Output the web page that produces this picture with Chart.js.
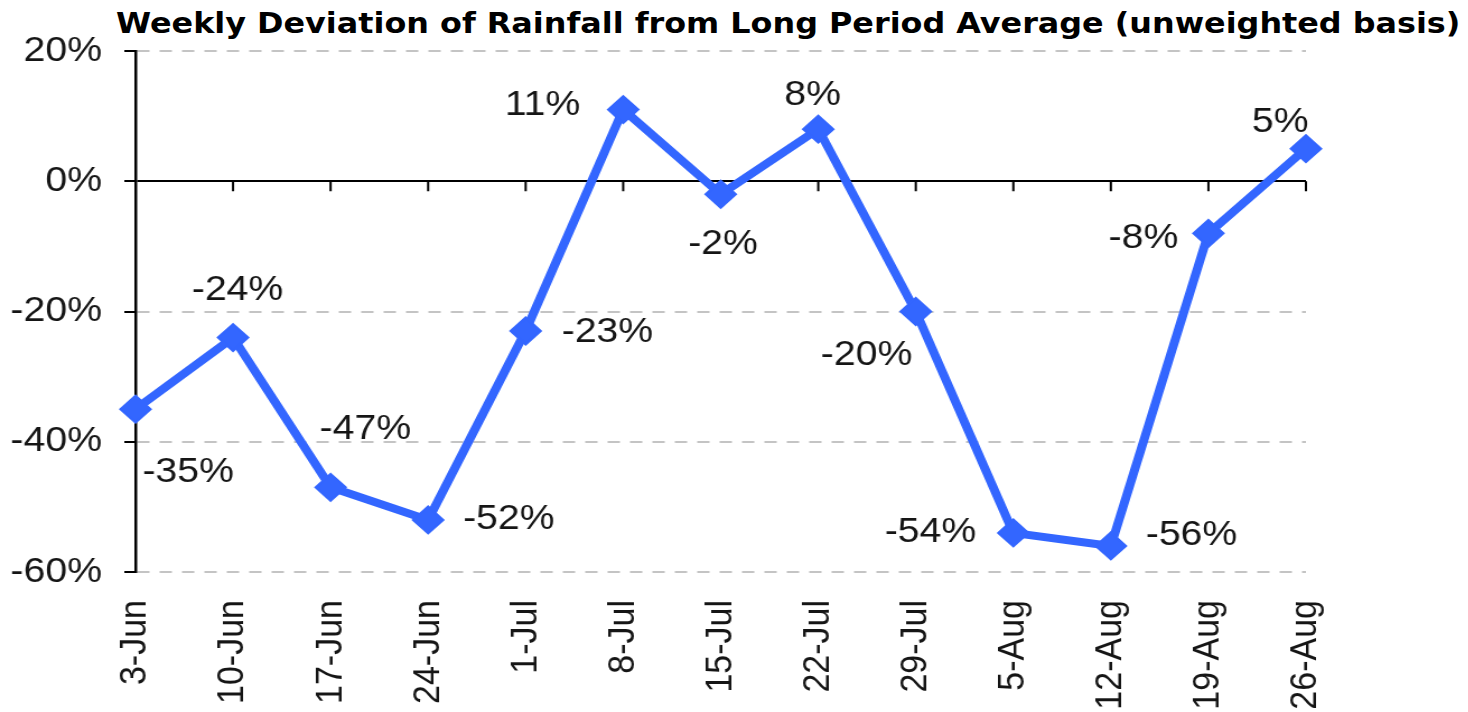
<!DOCTYPE html>
<html>
<head>
<meta charset="utf-8">
<script src="https://cdn.jsdelivr.net/npm/chart.js@4.4.0/dist/chart.umd.min.js"></script>
<style>
  html, body { margin: 0; padding: 0; background: #fff; overflow: hidden; }
  #title {
    position: absolute; right: 8px; top: 9px;
    font: bold 28px "DejaVu Sans"; line-height: 30px; color: #000; white-space: nowrap;
    transform: scaleX(1.137); transform-origin: 100% 0;
  }
  /* the source picture is stretched sideways, so the whole chart is too */
  #wrap {
    position: absolute; left: 0; top: 0; width: 1311px; height: 712px;
    transform: scaleX(1.12); transform-origin: 0 0;
  }
</style>
</head>
<body>
<div id="title">Weekly Deviation of Rainfall from Long Period Average (unweighted basis)</div>
<div id="wrap"><canvas id="chart"></canvas></div>
<script>
const weeks = ["3-Jun", "10-Jun", "17-Jun", "24-Jun", "1-Jul", "8-Jul", "15-Jul",
               "22-Jul", "29-Jul", "5-Aug", "12-Aug", "19-Aug", "26-Aug"];
const deviation = [-35, -24, -47, -52, -23, 11, -2, 8, -20, -54, -56, -8, 5];
const yTicks = [-60, -40, -20, 0, 20];

// where each value label sits relative to its point (px, before the stretch)
const labelShift = [[47, 63], [4, -47], [31, -58], [72, -1], [73, 1], [-72, -4], [2, 50],
                    [-5, -34], [-44, 44], [-74, -1], [72, -11], [-58, 5], [-23, -26]];

const blue = "#3366ff";
const textColor = "#151515";

// small down-ticks on the 0% line
const zeroTicks = {
  id: "zeroTicks",
  beforeDatasetsDraw(chart) {
    const { ctx, scales: { x, y } } = chart;
    const y0 = y.getPixelForValue(0);
    ctx.save();
    ctx.strokeStyle = "#000";
    ctx.lineWidth = 2;
    ctx.beginPath();
    x.ticks.forEach((t, i) => {
      const px = x.getPixelForTick(i);
      ctx.moveTo(px, y0);
      ctx.lineTo(px, y0 + 10);
    });
    ctx.stroke();
    ctx.restore();
  }
};

const valueLabels = {
  id: "valueLabels",
  afterDatasetsDraw(chart) {
    const ctx = chart.ctx;
    const meta = chart.getDatasetMeta(0);
    ctx.save();
    ctx.font = "35px 'Liberation Sans'";
    ctx.fillStyle = textColor;
    ctx.textAlign = "center";
    ctx.textBaseline = "middle";
    meta.data.forEach((pt, i) => {
      const [dx, dy] = labelShift[i];
      ctx.fillText(deviation[i] + "%", pt.x + dx, pt.y + dy);
    });
    ctx.restore();
  }
};

new Chart(document.getElementById("chart"), {
  type: "line",
  data: {
    labels: weeks,
    datasets: [{
      data: deviation,
      borderColor: blue,
      backgroundColor: blue,
      borderWidth: 8,
      tension: 0,
      pointStyle: "rectRot",
      pointRadius: 13.5,
      pointBorderWidth: 2,
      pointBackgroundColor: blue,
      pointBorderColor: blue
    }]
  },
  options: {
    responsive: true,
    maintainAspectRatio: false,
    animation: false,
    layout: { padding: { left: 0, right: 145, top: 51, bottom: 0 } },
    plugins: {
      legend: { display: false },
      tooltip: { enabled: false }
    },
    scales: {
      x: {
        offset: false,
        afterFit: (s) => { s.height = 140; },
        grid: { display: false, drawTicks: false },
        border: { display: false },
        ticks: {
          autoSkip: false,
          minRotation: 90,
          maxRotation: 90,
          padding: 28,
          color: textColor,
          font: { family: "Liberation Sans", size: 34 }
        }
      },
      y: {
        min: -60,
        max: 20,
        afterFit: (s) => { s.width = 121; },
        afterBuildTicks: (scale) => {
          scale.ticks = yTicks.map(v => ({ value: v }));
        },
        ticks: {
          padding: 20,
          color: textColor,
          font: { family: "Liberation Sans", size: 35 },
          callback: (v) => v + "%"
        },
        grid: {
          color: (c) => (c.tick && c.tick.value === 0 ? "#000" : "#c4c4c4"),
          lineWidth: 2,
          tickLength: 10,
          tickColor: "#000",
          tickWidth: 2
        },
        border: {
          display: true,
          color: "#000",
          width: 2.5,
          dash: (c) => (c.type === "tick" && c.tick.value !== 0 ? [11, 9] : [])
        }
      }
    }
  },
  plugins: [zeroTicks, valueLabels]
});
</script>
</body>
</html>
